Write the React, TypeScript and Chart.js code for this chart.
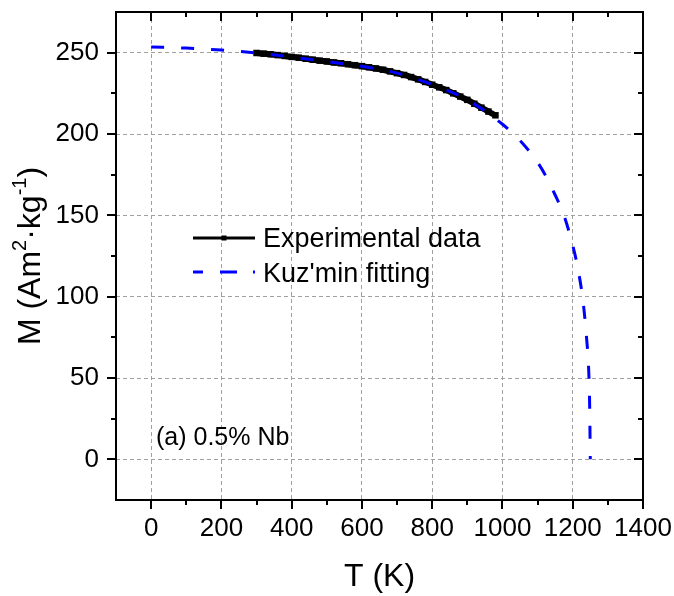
import React, { useEffect, useRef } from 'react';
import { Chart, registerables } from 'chart.js';

Chart.register(...registerables);

// Kuz'min fitting curve (T in K, M in Am2/kg)
const fitT = [0, 100, 200, 300, 400, 500, 600, 700, 800, 900, 1000, 1050, 1100, 1125, 1150, 1175, 1200, 1215, 1230, 1240, 1245, 1248, 1250];
const fitM = [253.5, 252.8, 251.6, 249.8, 247.3, 244.5, 241.6, 237.4, 230.4, 221.0, 206.0, 196.0, 182.5, 173.5, 162.5, 150.0, 131.5, 117.0, 96.0, 73.0, 57.0, 35.0, 0];

// Experimental data
const expT = [300, 320, 340, 360, 380, 400, 420, 440, 460, 480, 500, 520, 540, 560, 580, 600, 620, 640, 660, 680, 700, 720, 740, 760, 780, 800, 820, 840, 860, 880, 900, 920, 940, 960, 980];
const expM = [249.8, 249.4, 249.0, 248.5, 248.0, 247.4, 246.9, 246.3, 245.7, 245.1, 244.6, 244.0, 243.5, 242.9, 242.3, 241.7, 241.0, 240.3, 239.5, 238.5, 237.4, 236.3, 235.0, 233.6, 232.0, 230.3, 228.7, 227.0, 225.0, 223.0, 221.0, 218.6, 216.2, 213.8, 211.5];

const xTicks = [0, 200, 400, 600, 800, 1000, 1200, 1400];
const yTicks = [0, 50, 100, 150, 200, 250];

const FONT = '"Liberation Sans", Arial, sans-serif';

export default function App() {
  const ref = useRef<HTMLCanvasElement>(null);

  useEffect(() => {
    const canvas = ref.current!;
    const W = 674, H = 596;
    const L = 116, R = 643, T = 12, B = 500;

    const decor = {
      id: 'decor',
      afterDraw(chart: any) {
        const ctx = chart.ctx as CanvasRenderingContext2D;
        const { left, right, top, bottom } = chart.chartArea;
        const xs = chart.scales.x, ys = chart.scales.y;
        ctx.save();
        ctx.strokeStyle = '#000';
        ctx.lineWidth = 2;
        ctx.setLineDash([]);
        ctx.strokeRect(left, top, right - left, bottom - top);
        ctx.beginPath();
        for (let v = 0; v <= 1400; v += 100) {
          const px = Math.round(xs.getPixelForValue(v));
          const len = v % 200 === 0 ? 9 : 5;
          ctx.moveTo(px, bottom); ctx.lineTo(px, bottom + len);
          ctx.moveTo(px, top); ctx.lineTo(px, top + len);
        }
        for (let v = 0; v <= 250; v += 25) {
          const py = Math.round(ys.getPixelForValue(v));
          const len = v % 50 === 0 ? 9 : 5;
          ctx.moveTo(left, py); ctx.lineTo(left - len, py);
          ctx.moveTo(right, py); ctx.lineTo(right - len, py);
        }
        ctx.stroke();

        ctx.fillStyle = '#000';
        // x title
        ctx.font = `32px ${FONT}`;
        ctx.textAlign = 'center';
        ctx.textBaseline = 'alphabetic';
        ctx.fillText('T (K)', (left + right) / 2, 586);

        // y title with superscripts
        const segs = [
          { t: 'M (Am', s: 32, dy: 0 },
          { t: '2', s: 20, dy: -14 },
          { t: '·kg', s: 32, dy: 0 },
          { t: '-1', s: 20, dy: -14 },
          { t: ')', s: 32, dy: 0 },
        ];
        let total = 0;
        const widths = segs.map((sg) => {
          ctx.font = `${sg.s}px ${FONT}`;
          const w = ctx.measureText(sg.t).width;
          total += w;
          return w;
        });
        ctx.save();
        ctx.translate(40, (top + bottom) / 2);
        ctx.rotate(-Math.PI / 2);
        ctx.textAlign = 'left';
        let cx = -total / 2;
        segs.forEach((sg, i) => {
          ctx.font = `${sg.s}px ${FONT}`;
          ctx.fillText(sg.t, cx, sg.dy);
          cx += widths[i];
        });
        ctx.restore();

        // legend
        ctx.lineWidth = 3;
        ctx.strokeStyle = '#000';
        ctx.beginPath();
        ctx.moveTo(193, 238); ctx.lineTo(255, 238);
        ctx.stroke();
        ctx.fillRect(221.5, 235.5, 5, 5);
        ctx.strokeStyle = '#0000ff';
        ctx.setLineDash([10, 17, 17, 16]);
        ctx.beginPath();
        ctx.moveTo(193, 272); ctx.lineTo(255, 272);
        ctx.stroke();
        ctx.setLineDash([]);
        ctx.font = `27px ${FONT}`;
        ctx.textAlign = 'left';
        ctx.fillText('Experimental data', 263, 247);
        ctx.fillText("Kuz'min fitting", 263, 281.5);

        // annotation
        ctx.font = `25px ${FONT}`;
        ctx.fillText('(a) 0.5% Nb', 156, 445);
        ctx.restore();
      },
    };

    const chart = new Chart(canvas, {
      type: 'scatter',
      data: {
        datasets: [
          {
            label: "Kuz'min fitting",
            data: fitT.map((t, i) => ({ x: t, y: fitM[i] })),
            showLine: true,
            borderColor: '#0000ff',
            borderWidth: 3,
            borderDash: [13, 17],
            pointRadius: 0,
            cubicInterpolationMode: 'monotone',
            fill: false,
          },
          {
            label: 'Experimental data',
            data: expT.map((t, i) => ({ x: t, y: expM[i] })),
            showLine: true,
            borderColor: '#000',
            borderWidth: 6,
            cubicInterpolationMode: 'monotone',
            pointStyle: 'rect',
            pointRadius: 4.6,
            pointBackgroundColor: '#000',
            pointBorderColor: '#000',
            pointBorderWidth: 0,
            fill: false,
          },
        ],
      } as any,
      options: {
        responsive: false,
        animation: false,
        devicePixelRatio: 1,
        events: [],
        layout: { padding: { top: T, right: W - R, left: 0, bottom: 0 } },
        plugins: { legend: { display: false }, tooltip: { enabled: false } },
        scales: {
          x: {
            type: 'linear',
            min: -100,
            max: 1400,
            afterBuildTicks: (s: any) => { s.ticks = xTicks.map((v) => ({ value: v })); },
            afterFit: (s: any) => { s.height = H - B; s.paddingLeft = 0; s.paddingRight = 0; },
            ticks: {
              padding: 13,
              autoSkip: false,
              maxRotation: 0,
              color: '#000',
              font: { family: FONT, size: 26 },
              callback: (v: any) => String(v),
            },
            grid: { color: '#a0a0a0', lineWidth: 1, drawTicks: false },
            border: { display: false, dash: [4, 3] },
          },
          y: {
            type: 'linear',
            min: -25,
            max: 275,
            afterBuildTicks: (s: any) => { s.ticks = yTicks.map((v) => ({ value: v })); },
            afterFit: (s: any) => { s.width = L; s.paddingTop = 0; s.paddingBottom = 0; },
            ticks: {
              padding: 17,
              autoSkip: false,
              color: '#000',
              font: { family: FONT, size: 26 },
              callback: (v: any) => String(v),
            },
            grid: { color: '#a0a0a0', lineWidth: 1, drawTicks: false },
            border: { display: false, dash: [4, 3] },
          },
        },
      } as any,
      plugins: [decor],
    });
    return () => chart.destroy();
  }, []);

  return (
    <div style={{ position: 'fixed', left: 0, top: 0, width: 674, height: 596, background: '#fff' }}>
      <canvas ref={ref} width={674} height={596} style={{ display: 'block' }} />
    </div>
  );
}
